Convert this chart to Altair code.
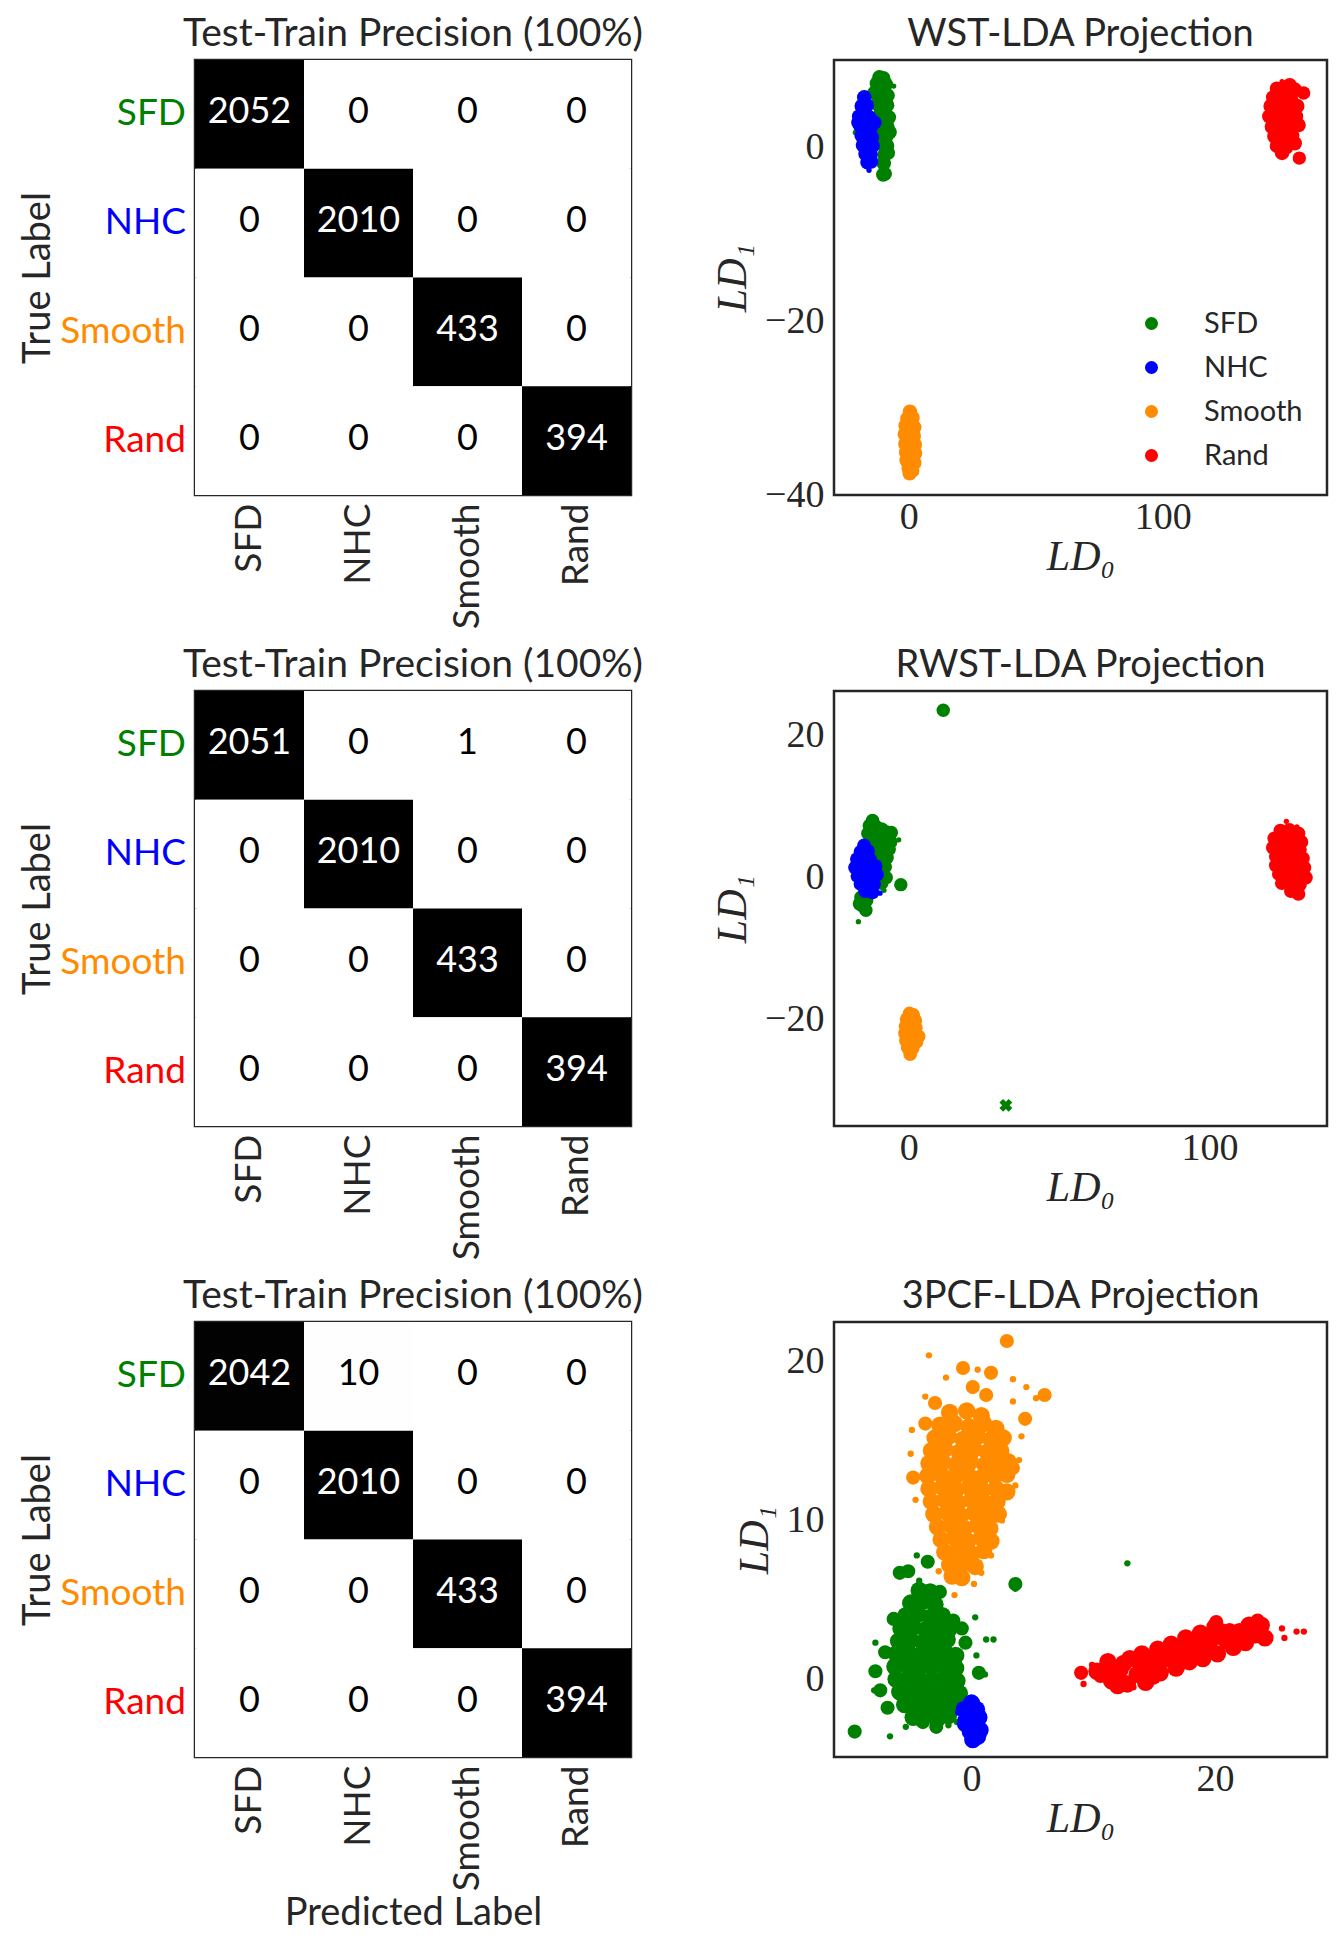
import altair as alt
import pandas as pd

CLASSES = ["SFD", "NHC", "Smooth", "Rand"]
CLASS_COLORS = ["#008000", "#0000ff", "#ff8c00", "#ff0000"]

CM_TITLE = "Test-Train Precision (100%)"
CM_WST = [[2052, 0, 0, 0], [0, 2010, 0, 0], [0, 0, 433, 0], [0, 0, 0, 394]]
CM_RWST = [[2051, 0, 1, 0], [0, 2010, 0, 0], [0, 0, 433, 0], [0, 0, 0, 394]]
CM_3PCF = [[2042, 10, 0, 0], [0, 2010, 0, 0], [0, 0, 433, 0], [0, 0, 0, 394]]

# (LD0, LD1, weight) -- weight: 0 small dot, 1 ordinary dot, 2 large dot
WST_SFD = [(-11.5, 8.1, 1), (-10.0, 8.0, 1), (-12.5, 7.4, 1), (-10.8, 7.2, 1), (-9.0, 7.3, 1),
           (-5.9, 7.1, 0), (-13.5, 6.3, 1), (-11.5, 6.2, 1), (-9.5, 6.4, 1), (-8.3, 6.0, 1),
           (-12.2, 5.0, 1), (-10.2, 5.1, 1), (-8.5, 4.9, 1), (-11.0, 4.0, 1), (-9.2, 3.8, 1),
           (-7.8, 3.5, 1), (-11.5, 2.8, 1), (-9.8, 2.6, 1), (-8.2, 2.4, 2), (-10.5, 1.5, 1),
           (-8.8, 1.3, 1), (-7.5, 1.8, 1), (-10.0, 0.4, 1), (-8.5, 0.2, 1), (-9.5, -0.8, 1),
           (-8.2, -0.6, 1), (-9.8, -1.8, 1), (-9.2, -3.0, 2), (-10.0, -3.1, 1), (-21.0, 1.75, 0)]
WST_NHC = [(-17.5, 5.8, 1), (-18.5, 4.8, 1), (-16.5, 4.9, 1), (-19.5, 3.6, 1), (-17.5, 3.8, 1),
           (-15.5, 3.5, 1), (-19.0, 2.5, 1), (-17.0, 2.6, 1), (-15.0, 2.3, 1), (-18.5, 1.4, 1),
           (-16.5, 1.5, 1), (-14.5, 1.2, 1), (-18.0, 0.3, 1), (-16.0, 0.4, 1), (-14.2, 0.2, 1),
           (-17.0, -0.7, 1), (-15.0, -0.8, 1), (-16.2, -1.7, 1), (-14.8, -1.6, 1), (-15.6, -2.6, 0),
           (-19.8, 2.9, 1), (-13.5, 2.9, 1)]
WST_SMOOTH = [(0.5, -30.4, 1), (-0.5, -31.2, 1), (1.5, -31.1, 1), (-1.2, -32.0, 1), (0.6, -32.1, 1),
              (2.2, -32.2, 1), (-1.5, -33.0, 1), (0.2, -33.1, 1), (2.0, -33.2, 1), (-1.3, -34.1, 1),
              (0.5, -34.0, 1), (2.4, -34.2, 1), (-1.0, -35.1, 1), (0.9, -35.0, 1), (2.5, -35.2, 1),
              (-0.8, -36.0, 1), (1.0, -36.1, 1), (2.2, -36.3, 1), (0.0, -36.9, 1), (1.4, -37.2, 1),
              (0.4, -37.5, 1)]
WST_RAND = [(147.0, 7.6, 0), (150.0, 7.2, 1), (145.0, 6.8, 1), (148.5, 6.6, 1), (152.0, 6.7, 1),
            (143.5, 5.8, 1), (147.0, 5.9, 1), (150.5, 5.7, 1), (155.5, 6.3, 2), (142.5, 4.8, 1),
            (146.0, 4.9, 1), (149.5, 4.6, 1), (153.0, 4.8, 1), (142.0, 3.6, 1), (145.5, 3.7, 1),
            (149.0, 3.5, 1), (152.5, 3.6, 1), (143.0, 2.4, 1), (146.5, 2.5, 1), (150.0, 2.3, 1),
            (153.5, 2.6, 1), (144.0, 1.3, 1), (147.5, 1.2, 1), (151.0, 1.4, 1), (145.0, 0.2, 1),
            (148.5, 0.0, 1), (152.0, 0.5, 1), (147.0, -0.6, 1), (153.8, -1.2, 2)]

RWST_SFD = [(-12.0, 8.0, 1), (-13.0, 7.3, 1), (-11.0, 7.2, 1), (-9.0, 6.8, 1), (-7.5, 6.4, 1),
            (-5.8, 6.3, 1), (-13.5, 6.2, 1), (-11.5, 6.0, 1), (-9.5, 5.8, 1), (-7.5, 5.3, 1),
            (-6.0, 5.0, 1), (-12.5, 5.0, 1), (-10.5, 4.8, 1), (-8.5, 4.4, 1), (-6.5, 4.0, 1),
            (-11.0, 3.6, 1), (-9.0, 3.2, 1), (-7.2, 2.8, 1), (-9.5, 2.0, 1), (-7.8, 1.5, 1),
            (-8.8, 0.6, 1), (-7.5, 0.0, 1), (-9.0, -0.8, 1), (-3.3, 5.3, 0), (-2.6, -1.0, 2),
            (-8.2, -1.8, 0), (-15.8, -2.8, 1), (-14.0, -3.2, 1), (-16.3, -3.7, 1), (-14.2, -4.6, 2),
            (-15.2, -4.0, 1), (-16.7, -6.2, 0), (11.5, 23.5, 2)]
RWST_NHC = [(-14.8, 4.5, 1), (-16.0, 3.6, 1), (-13.5, 3.7, 1), (-17.2, 2.6, 1), (-15.0, 2.7, 1),
            (-12.8, 2.5, 1), (-17.8, 1.4, 1), (-15.5, 1.5, 1), (-13.0, 1.3, 1), (-11.0, 1.6, 1),
            (-17.0, 0.2, 1), (-14.8, 0.3, 1), (-12.5, 0.1, 1), (-10.5, 0.4, 1), (-16.0, -0.9, 1),
            (-13.5, -1.0, 1), (-11.5, -0.9, 1), (-14.5, -1.9, 1), (-12.0, -2.1, 1), (-18.4, 1.9, 0),
            (-9.5, -2.2, 0)]
RWST_SMOOTH = [(0.3, -19.1, 1), (1.5, -19.3, 1), (-0.6, -19.9, 1), (1.0, -20.0, 1), (2.2, -20.1, 1),
               (-1.0, -20.9, 1), (0.6, -21.0, 1), (2.4, -21.1, 1), (-1.2, -21.9, 1), (0.4, -22.0, 1),
               (2.2, -22.0, 1), (3.3, -22.3, 1), (-0.9, -22.9, 1), (0.8, -23.0, 1), (2.6, -23.1, 1),
               (-0.3, -23.9, 1), (1.3, -24.0, 1), (0.5, -24.8, 1)]
RWST_RAND = [(125.5, 7.9, 0), (129.0, 7.1, 0), (123.5, 6.6, 1), (126.5, 6.7, 1), (129.5, 6.2, 1),
             (121.5, 5.5, 1), (124.5, 5.6, 1), (127.5, 5.5, 1), (130.5, 5.0, 1), (121.0, 4.2, 1),
             (124.0, 4.3, 1), (127.0, 4.2, 1), (130.0, 3.9, 1), (122.0, 3.0, 1), (125.0, 3.0, 1),
             (128.0, 2.9, 1), (131.0, 2.7, 1), (122.0, 1.7, 1), (125.0, 1.8, 1), (128.0, 1.6, 1),
             (131.5, 1.4, 1), (123.0, 0.5, 1), (126.0, 0.5, 1), (129.0, 0.4, 1), (132.0, 0.0, 1),
             (124.0, -0.8, 1), (127.0, -0.8, 1), (130.0, -1.0, 1), (127.0, -1.9, 1), (129.5, -2.3, 1)]
RWST_SFD_CROSS = [(32.3, -32.0)]

PCF_SFD = [
    # dense core
    (-4.3, 5.6, 1), (-3.4, 5.5, 1),
    (-5.0, 4.8, 1), (-4.0, 4.9, 1), (-3.0, 4.7, 1),
    (-5.4, 4.0, 1), (-4.4, 4.1, 1), (-3.4, 3.9, 1), (-2.4, 4.0, 1),
    (-5.8, 3.2, 1), (-4.8, 3.3, 1), (-3.8, 3.1, 1), (-2.8, 3.2, 1), (-1.9, 3.1, 1),
    (-6.0, 2.4, 1), (-5.0, 2.5, 1), (-4.0, 2.3, 1), (-3.0, 2.4, 1), (-2.0, 2.5, 1),
    (-6.2, 1.6, 1), (-5.2, 1.7, 1), (-4.2, 1.5, 1), (-3.2, 1.6, 1), (-2.2, 1.7, 1), (-1.3, 1.5, 1),
    (-6.3, 0.8, 1), (-5.3, 0.9, 1), (-4.3, 0.7, 1), (-3.3, 0.8, 1), (-2.3, 0.9, 1), (-1.3, 0.7, 1),
    (-6.2, 0.0, 1), (-5.2, 0.1, 1), (-4.2, -0.1, 1), (-3.2, 0.0, 1), (-2.2, 0.1, 1), (-1.2, -0.1, 1),
    (-5.9, -0.8, 1), (-4.9, -0.7, 1), (-3.9, -0.9, 1), (-2.9, -0.8, 1), (-1.9, -0.7, 1), (-1.0, -0.9, 1),
    (-5.5, -1.6, 1), (-4.5, -1.5, 1), (-3.5, -1.7, 1), (-2.5, -1.6, 1), (-1.6, -1.5, 1),
    (-4.8, -2.4, 1), (-3.8, -2.3, 1), (-2.8, -2.5, 1), (-1.9, -2.3, 1),
    # scattered
    (-4.5, 7.8, 0), (-3.6, 7.4, 2), (-5.2, 6.8, 2), (-5.9, 6.7, 2), (-4.3, 6.2, 0),
    (-2.6, 5.5, 2), (3.6, 6.0, 2), (3.6, 5.7, 0), (12.8, 7.3, 0), (-6.4, 3.8, 2),
    (-1.5, 3.7, 2), (0.3, 3.9, 0), (-0.8, 3.2, 2), (-7.9, 2.3, 0), (-7.1, 1.7, 2),
    (-0.5, 2.3, 2), (1.2, 2.5, 0), (1.8, 2.5, 0), (0.4, 1.5, 0), (-7.9, 0.5, 2),
    (0.6, 0.4, 2), (1.1, 0.3, 0), (-8.0, -0.7, 0), (-7.5, -0.7, 2), (-6.9, -1.8, 2),
    (-5.4, -3.0, 0), (-4.0, -2.7, 2), (-2.9, -3.0, 2), (-1.9, -2.9, 0), (-9.6, -3.3, 2),
    (-6.7, -3.6, 0), (-1.2, -2.7, 0)]
PCF_NHC = [(0.0, -1.5, 1), (-0.6, -1.9, 1), (0.4, -1.9, 1), (-1.1, -2.1, 0), (-0.3, -2.3, 1),
           (0.6, -2.4, 1), (-0.5, -2.8, 1), (0.3, -2.9, 1), (0.7, -3.2, 1), (-0.1, -3.3, 1),
           (0.5, -3.6, 1), (0.1, -3.8, 1), (-0.9, -2.5, 0)]
PCF_SMOOTH = [
    # dense core
    (-1.8, 16.8, 1), (-0.4, 16.9, 1), (0.8, 16.6, 1),
    (-2.6, 16.0, 1), (-1.4, 16.1, 1), (-0.2, 15.9, 1), (1.0, 16.1, 1), (2.0, 15.8, 1),
    (-3.0, 15.2, 1), (-1.9, 15.3, 1), (-0.7, 15.1, 1), (0.5, 15.3, 1), (1.6, 15.1, 1), (2.6, 15.2, 1),
    (-3.3, 14.4, 1), (-2.2, 14.5, 1), (-1.0, 14.3, 1), (0.2, 14.5, 1), (1.3, 14.3, 1), (2.4, 14.4, 1),
    (-3.5, 13.6, 1), (-2.4, 13.7, 1), (-1.3, 13.5, 1), (-0.1, 13.7, 1), (1.1, 13.5, 1), (2.2, 13.6, 1),
    (3.0, 13.7, 1),
    (-3.6, 12.8, 1), (-2.5, 12.9, 1), (-1.4, 12.7, 1), (-0.3, 12.9, 1), (0.8, 12.7, 1), (1.9, 12.8, 1),
    (2.9, 12.9, 1),
    (-3.5, 12.0, 1), (-2.4, 12.1, 1), (-1.3, 11.9, 1), (-0.2, 12.1, 1), (0.9, 11.9, 1), (2.0, 12.0, 1),
    (2.9, 11.8, 1),
    (-3.3, 11.2, 1), (-2.2, 11.3, 1), (-1.1, 11.1, 1), (0.0, 11.3, 1), (1.1, 11.1, 1), (2.1, 11.2, 1),
    (-3.1, 10.4, 1), (-2.0, 10.5, 1), (-0.9, 10.3, 1), (0.2, 10.5, 1), (1.3, 10.3, 1), (2.2, 10.4, 1),
    (-2.8, 9.6, 1), (-1.7, 9.7, 1), (-0.6, 9.5, 1), (0.5, 9.7, 1), (1.5, 9.5, 1),
    (-2.5, 8.8, 1), (-1.4, 8.9, 1), (-0.3, 8.7, 1), (0.8, 8.9, 1), (1.6, 8.7, 1),
    (-2.2, 8.0, 1), (-1.1, 8.1, 1), (0.0, 7.9, 1), (1.0, 8.1, 1),
    (-1.8, 7.2, 1), (-0.7, 7.3, 1), (0.3, 7.1, 1),
    (-1.6, 6.5, 1), (-0.8, 6.4, 1),
    # scattered
    (2.9, 21.3, 2), (-3.5, 20.4, 0), (-0.7, 19.6, 2), (1.6, 19.3, 2), (0.5, 19.5, 0),
    (3.4, 18.9, 0), (6.0, 17.9, 2), (4.5, 18.4, 0), (5.3, 17.7, 0), (-2.1, 19.0, 0),
    (0.1, 18.4, 2), (1.2, 17.9, 2), (-3.8, 17.8, 0), (-3.0, 17.4, 2), (3.4, 17.5, 0),
    (4.4, 16.4, 2), (-3.8, 16.1, 2), (-4.9, 15.7, 0), (4.1, 15.3, 0), (-5.0, 14.2, 0),
    (3.9, 13.8, 0), (-4.8, 12.7, 2), (3.4, 13.3, 2), (3.6, 12.2, 0), (-4.6, 11.3, 0),
    (2.5, 10.0, 0), (1.6, 7.8, 0), (-2.7, 6.8, 0), (0.2, 6.0, 0), (-1.4, 5.3, 0),
    (0.8, 6.7, 0)]
PCF_RAND = [
    (9.0, 0.4, 2), (9.2, -0.3, 0), (9.9, 0.9, 0), (10.6, 0.2, 2), (11.2, 1.1, 1),
    (11.5, -0.1, 1), (12.2, 0.6, 1), (12.8, -0.3, 1), (13.0, 1.3, 1), (13.6, 0.3, 1),
    (14.0, 1.6, 1), (14.3, -0.2, 1), (14.8, 0.8, 1), (15.3, 1.9, 1), (15.5, 0.4, 1),
    (16.0, 1.3, 1), (16.4, 2.2, 1), (16.8, 0.7, 1), (17.2, 1.7, 1), (17.6, 2.6, 1),
    (17.9, 1.1, 1), (18.4, 2.0, 1), (18.8, 2.9, 1), (19.0, 1.3, 1), (19.5, 2.3, 1),
    (20.0, 3.3, 1), (20.2, 1.6, 1), (20.7, 2.6, 1), (21.2, 3.0, 1), (21.5, 2.0, 1),
    (22.0, 3.0, 1), (22.5, 2.3, 1), (22.8, 3.4, 1), (23.3, 2.8, 1), (23.8, 3.4, 1),
    (24.1, 2.6, 1), (10.3, 0.5, 1), (11.0, 0.6, 1), (12.5, 1.0, 1), (13.9, 0.9, 1),
    (15.0, 1.3, 1), (16.3, 1.6, 1), (17.5, 1.9, 1), (18.6, 1.7, 1), (19.8, 2.6, 1),
    (21.0, 2.4, 1), (22.2, 2.7, 1), (23.5, 3.0, 1), (12.0, -0.4, 1), (14.9, 0.2, 1),
    (17.0, 1.0, 1), (19.3, 1.8, 1), (20.5, 3.0, 1), (25.5, 3.2, 0), (25.7, 2.6, 0),
    (26.7, 3.0, 0), (27.3, 3.0, 0), (20.1, 3.6, 2), (23.5, 3.7, 2), (13.3, -0.5, 0),
    (11.7, -0.1, 0)]

SANS = "Lato"
SERIF = "Liberation Serif"
INK = "#262626"

CM_W, CM_H = 436, 435
SC_W, SC_H = 493, 435


def confusion(mat, with_xtitle):
    recs = []
    for i, t in enumerate(CLASSES):
        total = sum(mat[i])
        for j, p in enumerate(CLASSES):
            recs.append({"true": t, "pred": p, "n": mat[i][j], "frac": mat[i][j] / total})
    df = pd.DataFrame(recs)
    xaxis = alt.Axis(title="Predicted Label" if with_xtitle else None, labelAngle=-90,
                     labelAlign="right", labelBaseline="middle", labelPadding=8,
                     labelFont=SANS, labelFontSize=37, labelColor=INK,
                     titleFont=SANS, titleFontSize=38, titleFontWeight="normal",
                     titleColor=INK, titlePadding=4, ticks=False, domain=False)
    yaxis = alt.Axis(title="True Label", labels=False, ticks=False, domain=False,
                     titleFont=SANS, titleFontSize=38, titleFontWeight="normal",
                     titleColor=INK, titlePadding=138)
    x = alt.X("pred:N", sort=CLASSES, scale=alt.Scale(paddingInner=0, paddingOuter=0), axis=xaxis)
    y = alt.Y("true:N", sort=CLASSES, scale=alt.Scale(paddingInner=0, paddingOuter=0), axis=yaxis)
    base = alt.Chart(df)
    cells = base.mark_rect().encode(
        x=x, y=y,
        fill=alt.Fill("frac:Q", scale=alt.Scale(domain=[0, 1], range=["#ffffff", "#000000"]),
                      legend=None))
    nums = base.mark_text(font=SANS, fontSize=36, align="center", baseline="middle", dy=-2).encode(
        x=x, y=y, text="n:Q",
        color=alt.condition("datum.frac > 0.5", alt.value("#ffffff"), alt.value("#000000")))
    rows = alt.Chart(pd.DataFrame({"true": CLASSES})).mark_text(
        font=SANS, fontSize=37, align="right", baseline="middle", dx=-9).encode(
        y=y, x=alt.value(0), text="true:N",
        color=alt.Color("true:N", scale=alt.Scale(domain=CLASSES, range=CLASS_COLORS), legend=None))
    return alt.layer(cells, nums, rows).properties(
        width=CM_W, height=CM_H,
        title=alt.TitleParams(CM_TITLE, font=SANS, fontSize=39, fontWeight="normal",
                              color=INK, offset=6, anchor="middle"))


def scatter(groups, xdom, ydom, xvals, yvals, title, sizes, legend, crosses=None):
    recs = []
    for cls, pts in zip(CLASSES, groups):
        for (px, py, w) in pts:
            recs.append({"x": px, "y": py, "w": w, "cls": cls})
    df = pd.DataFrame(recs)
    x = alt.X("x:Q", scale=alt.Scale(domain=xdom, nice=False, zero=False),
              axis=alt.Axis(values=xvals, title="LD₀", grid=False, ticks=False, domain=False,
                            labelFont=SERIF, labelFontSize=38, labelColor=INK, labelPadding=3,
                            titleFont=SERIF, titleFontStyle="italic", titleFontWeight="normal",
                            titleFontSize=42, titleColor=INK, titlePadding=0))
    y = alt.Y("y:Q", scale=alt.Scale(domain=ydom, nice=False, zero=False),
              axis=alt.Axis(values=yvals, title="LD₁", grid=False, ticks=False, domain=False,
                            labelFont=SERIF, labelFontSize=38, labelColor=INK, labelPadding=10,
                            titleFont=SERIF, titleFontStyle="italic", titleFontWeight="normal",
                            titleFontSize=42, titleColor=INK, titlePadding=10))
    color = alt.Color("cls:N", sort=CLASSES,
                      scale=alt.Scale(domain=CLASSES, range=CLASS_COLORS),
                      legend=legend)
    pts = alt.Chart(df).mark_circle(opacity=1).encode(
        x=x, y=y, color=color,
        size=alt.Size("w:Q", scale=alt.Scale(type="linear", domain=[0, 1, 2], range=sizes),
                      legend=None))
    layers = [pts]
    if crosses:
        cdf = pd.DataFrame({"x": [c[0] for c in crosses], "y": [c[1] for c in crosses]})
        layers.append(alt.Chart(cdf).mark_point(shape="cross", angle=45, filled=True,
                                                size=170, color=CLASS_COLORS[0], opacity=1)
                      .encode(x=x, y=y))
    return alt.layer(*layers).properties(
        width=SC_W, height=SC_H,
        title=alt.TitleParams(title, font=SANS, fontSize=38, fontWeight="normal",
                              color=INK, offset=6, anchor="middle"))


legend = alt.Legend(orient="none", legendX=303, legendY=249, title=None, symbolType="circle",
                    symbolSize=170, symbolStrokeWidth=0, labelFont=SANS, labelFontSize=29,
                    labelColor=INK, labelOffset=38, rowPadding=14, padding=0)

sc1 = scatter([WST_SFD, WST_NHC, WST_SMOOTH, WST_RAND], [-29.4, 164.7], [-40, 10.1],
              [0, 100], [0, -20, -40], "WST-LDA Projection", [28, 210, 180], legend)
sc2 = scatter([RWST_SFD, RWST_NHC, RWST_SMOOTH, RWST_RAND], [-24.8, 139], [-34.9, 26.2],
              [0, 100], [20, 0, -20], "RWST-LDA Projection", [28, 190, 180], None,
              crosses=RWST_SFD_CROSS)
sc3 = scatter([PCF_SFD, PCF_NHC, PCF_SMOOTH, PCF_RAND], [-11.3, 29.2], [-4.9, 22.5],
              [0, 20], [0, 10, 20], "3PCF-LDA Projection", [40, 300, 200], None)

cells = [confusion(CM_WST, False), sc1, confusion(CM_RWST, False), sc2,
         confusion(CM_3PCF, True), sc3]

chart = alt.concat(*cells, columns=2, spacing=alt.RowColnumber(row=196, column=203),
                   bounds="flush", align="each").resolve_scale(
    color="independent", size="independent", fill="independent"
).properties(padding={"left": 9, "top": 5, "right": 5, "bottom": 5}).configure_view(
    stroke=INK, strokeWidth=2.5)

chart.save("out.html", embed_options={"renderer": "svg", "actions": False})
